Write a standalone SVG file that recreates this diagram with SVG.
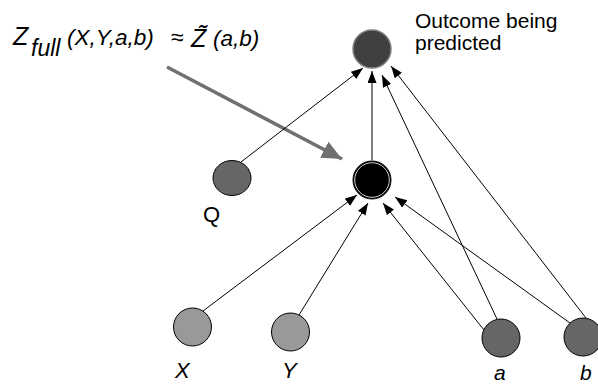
<svg xmlns="http://www.w3.org/2000/svg" width="598" height="386" viewBox="0 0 598 386">
<style>
.t{font-family:"Liberation Sans",Arial,sans-serif;fill:#000}
.it{font-style:italic}
.e{stroke:#000;stroke-width:1;fill:none;marker-end:url(#ah)}
.n{stroke:#000;stroke-width:1}
</style>
<defs>
<marker id="ah" markerUnits="userSpaceOnUse" markerWidth="13" markerHeight="10" refX="12" refY="4.5" orient="auto"><path d="M0,0 L12,4.5 L0,9 z" fill="#000"/></marker>
<marker id="gh" markerUnits="userSpaceOnUse" markerWidth="21" markerHeight="19" refX="20" refY="9" orient="auto"><path d="M0,0 L20,9 L0,18 z" fill="#707070"/></marker>
</defs>
<rect width="598" height="386" fill="#fff"/>
<g id="formula">
<text class="t it" x="13" y="45" font-size="25">Z</text>
<text class="t it" x="31" y="56" font-size="23">full</text>
<text class="t it" x="67" y="45" font-size="22.5">(X,Y,a,b)</text>
<text class="t" x="171" y="45" font-size="23">≈</text>
<text class="t it" x="191" y="47" font-size="25">Z̃</text>
<text class="t it" x="213" y="46" font-size="22.5">(a,b)</text>
</g>
<g id="connectors">
<line x1="167" y1="67" x2="342" y2="159" stroke="#707070" stroke-width="3.5" marker-end="url(#gh)"/>
<line class="e" x1="241" y1="162" x2="363" y2="68"/>
<line class="e" x1="372" y1="160" x2="372" y2="71"/>
<line class="e" x1="497" y1="319" x2="382" y2="75"/>
<line class="e" x1="586" y1="318" x2="391" y2="66"/>
<line class="e" x1="203" y1="311" x2="357" y2="195"/>
<line class="e" x1="299" y1="315" x2="368" y2="203"/>
<line class="e" x1="484" y1="330" x2="383" y2="203"/>
<line class="e" x1="570" y1="323" x2="395" y2="197"/>
</g>
<g id="outcome">
<circle cx="372" cy="49" r="19" fill="#404040" stroke="#808080" stroke-width="1.5"/>
<text class="t" x="415" y="28" font-size="21">Outcome being</text>
<text class="t" x="415" y="50" font-size="21">predicted</text>
</g>
<g id="center">
<circle cx="372" cy="180" r="19" fill="#000" stroke="#000" stroke-width="1"/>
<circle cx="372" cy="180" r="17.3" fill="none" stroke="#fff" stroke-width="0.8"/>
</g>
<g id="Q">
<ellipse class="n" cx="232" cy="178" rx="19" ry="17.5" fill="#666"/>
<text class="t" x="203" y="222" font-size="22">Q</text>
</g>
<g id="X">
<circle class="n" cx="192.5" cy="327" r="19" fill="#999"/>
<text class="t it" x="175" y="378" font-size="22">X</text>
</g>
<g id="Y">
<circle class="n" cx="290.5" cy="332" r="19" fill="#999"/>
<text class="t it" x="282" y="378" font-size="22">Y</text>
</g>
<g id="a">
<circle class="n" cx="501" cy="338" r="19" fill="#666"/>
<text class="t it" x="494" y="380" font-size="21">a</text>
</g>
<g id="b">
<circle class="n" cx="583" cy="337" r="19" fill="#666"/>
<text class="t it" x="580" y="380" font-size="21">b</text>
</g>
</svg>
